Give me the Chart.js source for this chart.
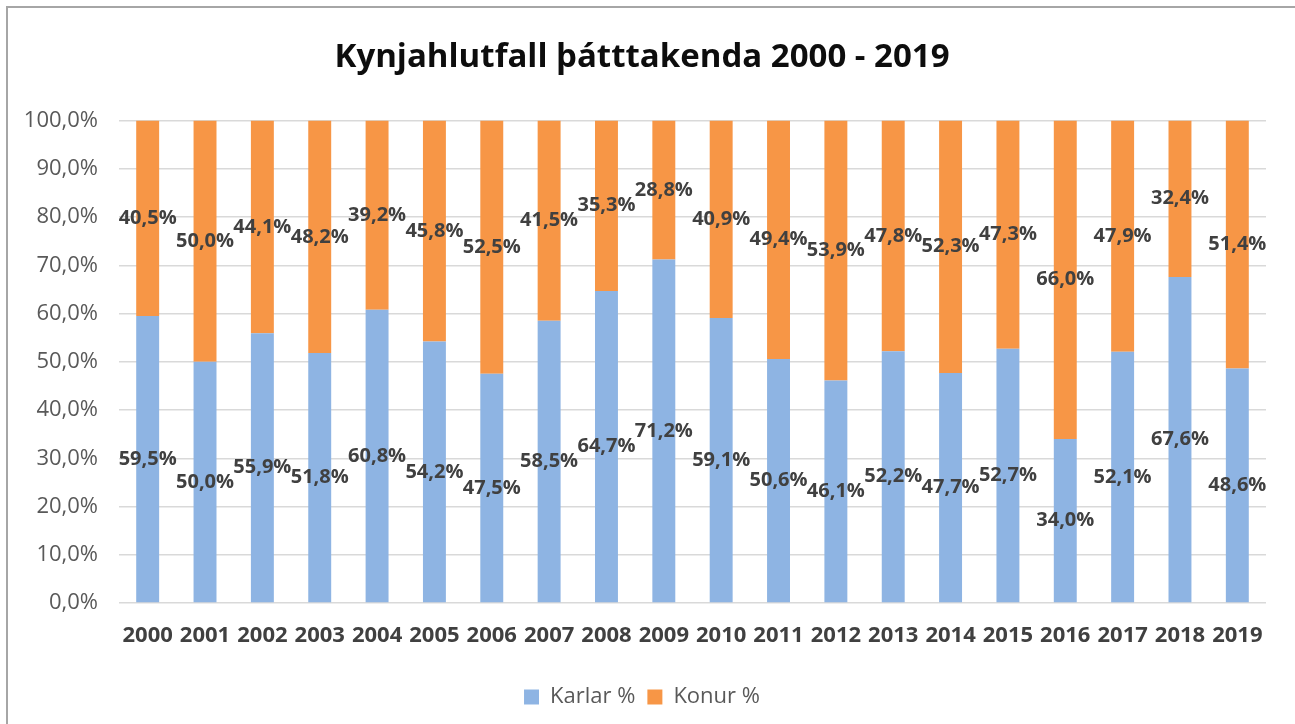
<!DOCTYPE html>
<html>
<head>
<meta charset="utf-8">
<script src="https://cdn.jsdelivr.net/npm/chart.js@4/dist/chart.umd.min.js"></script>
<style>
    body { margin: 0; background: #fff; }
    #wrap { position: relative; width: 1295px; height: 724px; }
    #frame {
        position: absolute; left: 6px; top: 6px; right: 0; bottom: 0;
        border-top: 2px solid #a6a6a6; border-left: 2px solid #a6a6a6;
        pointer-events: none;
    }
    canvas { position: absolute; left: 0; top: 0; }
</style>
</head>
<body>
<div id="wrap">
    <canvas id="chart" width="1295" height="724"></canvas>
    <div id="frame"></div>
</div>
<script>
const years = ['2000', '2001', '2002', '2003', '2004', '2005', '2006', '2007', '2008', '2009',
               '2010', '2011', '2012', '2013', '2014', '2015', '2016', '2017', '2018', '2019'];
const karlar = [59.5, 50.0, 55.9, 51.8, 60.8, 54.2, 47.5, 58.5, 64.7, 71.2,
                59.1, 50.6, 46.1, 52.2, 47.7, 52.7, 34.0, 52.1, 67.6, 48.6];
const konur = [40.5, 50.0, 44.1, 48.2, 39.2, 45.8, 52.5, 41.5, 35.3, 28.8,
               40.9, 49.4, 53.9, 47.8, 52.3, 47.3, 66.0, 47.9, 32.4, 51.4];
const yTickLabels = ['0,0%', '10,0%', '20,0%', '30,0%', '40,0%', '50,0%',
                     '60,0%', '70,0%', '80,0%', '90,0%', '100,0%'];

function pct(v) {
    return v.toFixed(1).replace('.', ',') + '%';
}

// gildin inni í hverjum stöpli
const barLabels = {
    id: 'barLabels',
    afterDatasetsDraw(chart) {
        const ctx = chart.ctx;
        ctx.save();
        ctx.font = 'bold 20px "Open Sans"';
        ctx.fillStyle = '#404040';
        ctx.textAlign = 'center';
        ctx.textBaseline = 'middle';
        chart.data.datasets.forEach((ds, i) => {
            chart.getDatasetMeta(i).data.forEach((bar, j) => {
                ctx.fillText(pct(ds.data[j]), bar.x, (bar.y + bar.base) / 2);
            });
        });
        ctx.restore();
    }
};

new Chart(document.getElementById('chart'), {
    type: 'bar',
    data: {
        labels: years,
        datasets: [
            { label: 'Karlar %', data: karlar, backgroundColor: '#8eb4e3' },
            { label: 'Konur %', data: konur, backgroundColor: '#f79646' }
        ]
    },
    options: {
        responsive: false,
        animation: false,
        layout: { padding: { left: 18, right: 29, top: 0, bottom: 6 } },
        datasets: { bar: { categoryPercentage: 0.4, barPercentage: 1.0 } },
        plugins: {
            title: {
                display: true,
                text: 'Kynjahlutfall þátttakenda 2000 - 2019',
                color: '#0d0d0d',
                font: { family: '"Open Sans"', size: 33, weight: 'bold' },
                padding: { top: 38, bottom: 43 }
            },
            legend: {
                position: 'bottom',
                labels: {
                    boxWidth: 15,
                    boxHeight: 15,
                    padding: 12,
                    color: '#595959',
                    font: { family: '"Open Sans"', size: 22 }
                }
            },
            tooltip: { enabled: false }
        },
        scales: {
            x: {
                stacked: true,
                grid: { display: false },
                border: { display: false },
                ticks: {
                    color: '#404040',
                    padding: 12,
                    maxRotation: 0,
                    autoSkip: false,
                    font: { family: '"Open Sans"', size: 22, weight: 'bold' }
                },
                afterFit(scale) { scale.height = 71; }
            },
            y: {
                stacked: true,
                min: 0,
                max: 100,
                grid: { color: '#d9d9d9', lineWidth: 1.5, drawTicks: false },
                border: { display: false },
                ticks: {
                    stepSize: 10,
                    padding: 21,
                    color: '#595959',
                    font: { family: '"Open Sans"', size: 22 },
                    callback: (v, i) => yTickLabels[i]
                },
                afterFit(scale) { scale.width = 101; }
            }
        }
    },
    plugins: [barLabels]
});
</script>
</body>
</html>
